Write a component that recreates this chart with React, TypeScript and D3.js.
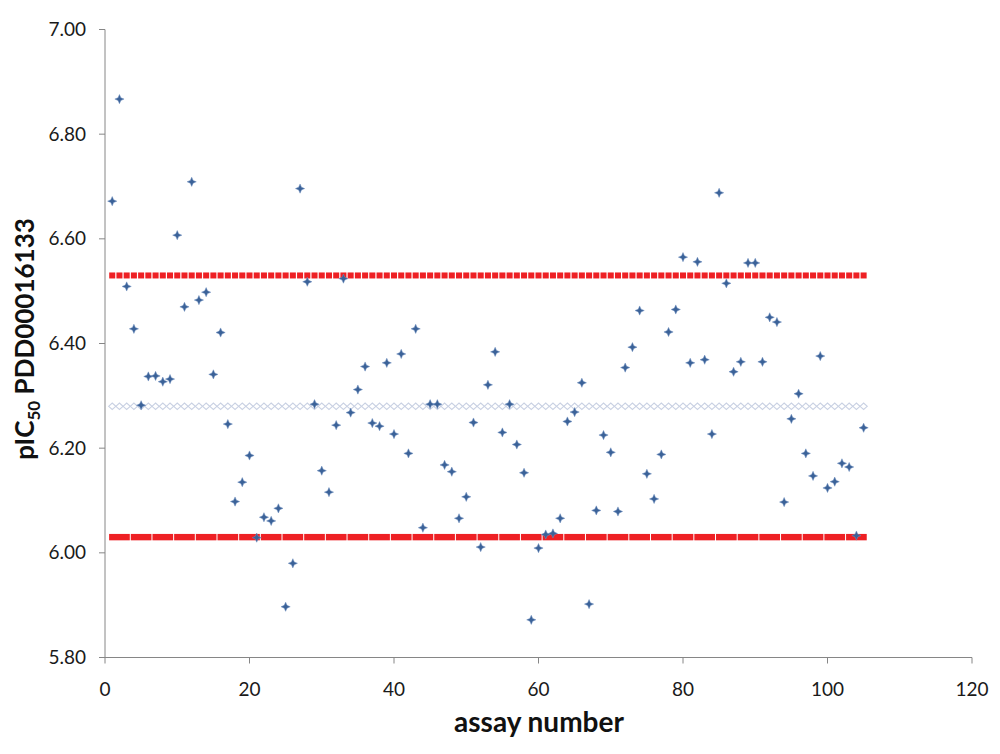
import React from "react";
import * as d3 from "d3";

// pIC50 values per assay (assay number = index + 1)
const pic50Values: number[] = [
  6.672, 6.867, 6.509, 6.428, 6.282, 6.337, 6.338, 6.327, 6.332, 6.607,
  6.470, 6.709, 6.483, 6.498, 6.341, 6.421, 6.246, 6.098, 6.135, 6.186,
  6.029, 6.068, 6.061, 6.085, 5.897, 5.980, 6.696, 6.518, 6.284, 6.157,
  6.116, 6.244, 6.524, 6.268, 6.312, 6.356, 6.248, 6.242, 6.363, 6.227,
  6.380, 6.190, 6.428, 6.048, 6.284, 6.284, 6.168, 6.155, 6.066, 6.107,
  6.249, 6.011, 6.321, 6.384, 6.230, 6.284, 6.207, 6.153, 5.872, 6.009,
  6.035, 6.037, 6.066, 6.251, 6.269, 6.325, 5.902, 6.081, 6.225, 6.192,
  6.079, 6.354, 6.393, 6.463, 6.151, 6.103, 6.188, 6.422, 6.465, 6.565,
  6.363, 6.556, 6.369, 6.227, 6.688, 6.515, 6.346, 6.365, 6.554, 6.554,
  6.365, 6.450, 6.441, 6.097, 6.256, 6.304, 6.190, 6.147, 6.376, 6.124,
  6.136, 6.171, 6.164, 6.033, 6.239,
];

const meanValue = 6.28;
const upperLimit = 6.53;
const lowerLimit = 6.03;

const xTicks: number[] = [0, 20, 40, 60, 80, 100, 120];
const yTicks: number[] = [5.8, 6.0, 6.2, 6.4, 6.6, 6.8, 7.0];

const W = 1000;
const H = 754;

export default function App() {
  const x = d3.scaleLinear().domain([0, 120]).range([105, 972]);
  const y = d3.scaleLinear().domain([5.8, 7.0]).range([657.5, 29.5]);

  const pts = pic50Values.map((v, i) => ({ n: i + 1, v }));
  const firstN = pts[0].n;
  const lastN = pts[pts.length - 1].n;
  const step = x(2) - x(1);

  const star = "M0,-4.6 L1.4,-1.4 L4.6,0 L1.4,1.4 L0,4.6 L-1.4,1.4 L-4.6,0 L-1.4,-1.4 Z";
  const font = "Lato, 'Open Sans', sans-serif";
  const axisColor = "#868686";

  // lower line segments: groups of 3 points
  const lowerSegs: number[] = [];
  for (let n = firstN; n <= lastN; n += 3) lowerSegs.push(n);

  return (
    <svg
      width={W}
      height={H}
      style={{ position: "absolute", left: 0, top: 0, background: "#fff" }}
      fontFamily={font}
    >
      {/* mean line: chain of hollow diamonds */}
      <g>
        {pts.map((p) => (
          <path
            key={"m" + p.n}
            d={`M${x(p.n) - step / 2},${y(meanValue)} L${x(p.n)},${y(meanValue) - 3.2} L${x(p.n) + step / 2},${y(meanValue)} L${x(p.n)},${y(meanValue) + 3.2} Z`}
            fill="none"
            stroke="#c9d1e3"
            strokeWidth={1.1}
          />
        ))}
      </g>

      {/* upper limit: red square markers */}
      <g>
        {pts.map((p) => (
          <rect
            key={"u" + p.n}
            x={x(p.n) - step / 2 + 0.6}
            y={y(upperLimit) - 3}
            width={step - 1.2}
            height={6}
            fill="#ee2024"
          />
        ))}
      </g>

      {/* lower limit: red thick segments */}
      <g>
        {lowerSegs.map((n) => {
          const end = Math.min(n + 3, lastN + 1);
          return (
            <rect
              key={"l" + n}
              x={x(n) - step / 2 + 0.5}
              y={y(lowerLimit) - 3.2}
              width={x(end) - x(n) - 1}
              height={6.4}
              fill="#ee2024"
            />
          );
        })}
      </g>

      {/* axes */}
      <line x1={x(0)} x2={x(0)} y1={y(7.0)} y2={y(5.8)} stroke={axisColor} strokeWidth={1} />
      <line x1={x(0)} x2={x(120)} y1={y(5.8)} y2={y(5.8)} stroke={axisColor} strokeWidth={1} />
      {yTicks.map((t) => (
        <g key={"yt" + t}>
          <line x1={x(0) - 6} x2={x(0)} y1={y(t)} y2={y(t)} stroke={axisColor} />
          <text
            x={x(0) - 19}
            y={y(t)}
            dy="0.35em"
            textAnchor="end"
            fontSize={19}
            fill="#1a1a1a"
          >
            {t.toFixed(2)}
          </text>
        </g>
      ))}
      {xTicks.map((t) => (
        <g key={"xt" + t}>
          <line x1={x(t)} x2={x(t)} y1={y(5.8)} y2={y(5.8) + 6} stroke={axisColor} />
          <text x={x(t)} y={696} textAnchor="middle" fontSize={19} fill="#1a1a1a">
            {t}
          </text>
        </g>
      ))}

      {/* data points */}
      <g>
        {pts.map((p) => (
          <path
            key={"p" + p.n}
            d={star}
            transform={`translate(${x(p.n)},${y(p.v)})`}
            fill="#3b6298"
            stroke="#6f8fbf"
            strokeWidth={0.5}
          />
        ))}
      </g>

      {/* axis titles */}
      <text x={539} y={732} textAnchor="middle" fontSize={28} fontWeight="bold" fill="#111">
        assay number
      </text>
      <text
        transform={`translate(34,${339}) rotate(-90)`}
        textAnchor="middle"
        fontSize={26}
        fontWeight="bold"
        fill="#111"
      >
        pIC
        <tspan fontSize={17} dy={6}>50</tspan>
        <tspan dy={-6}> PDD00016133</tspan>
      </text>
    </svg>
  );
}
